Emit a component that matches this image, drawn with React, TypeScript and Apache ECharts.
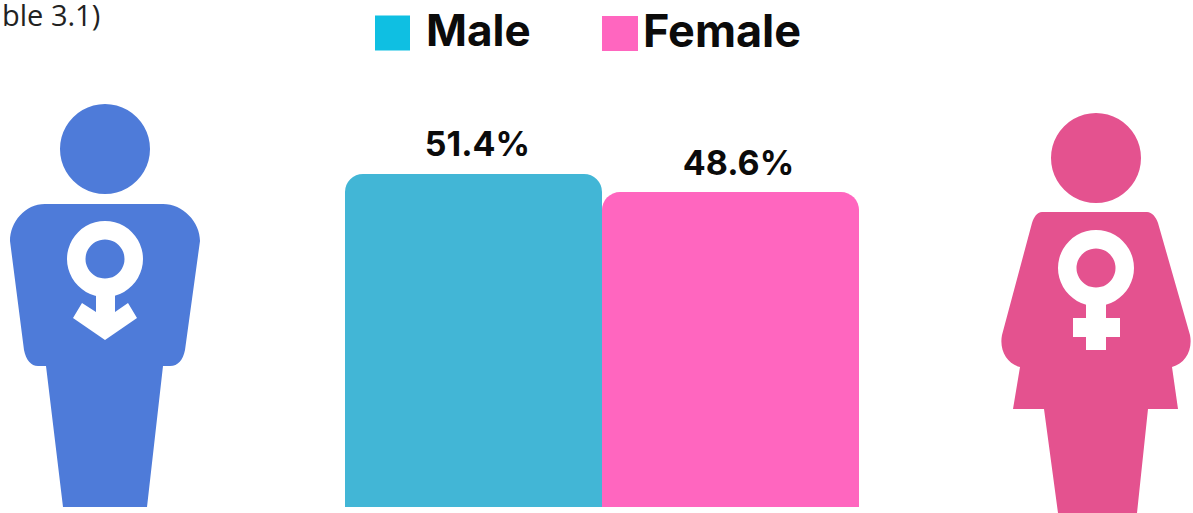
import React, { useEffect, useRef } from "react";
import * as echarts from "echarts";

const categories = ["Male", "Female"];
const maleValues = [51.4, null];
const femaleValues = [null, 48.6];
const noteText = "ble 3.1)";

const maleBody =
  "M45 204 L163 204 C183 204 200 222 200 241 L185 350 C183 360 178 366 170 366 L163 366 L147 507 L63 507 L46 366 L38 366 C31 366 26 360 24 350 L10 241 C10 222 25 204 45 204 Z";
const maleArrow =
  "M96 285 L115 285 L115 312 L128 303 L137 318 L105 340 L73 318 L82 303 L96 312 Z";
const femaleBody =
  "M1042 212 L1147 212 C1152 212 1156 217 1158 223 L1190 335 C1193 350 1185 364 1172 367 L1178 409 L1148 409 L1137 513 L1058 513 L1044 409 L1013 409 L1020 367 C1007 364 999 350 1002 335 L1032 223 C1034 217 1037 212 1042 212 Z";
const femaleCross =
  "M1086 295 L1106 295 L1106 318 L1120 318 L1120 337 L1106 337 L1106 350 L1086 350 L1086 337 L1073 337 L1073 318 L1086 318 Z";

echarts.graphic.registerShape("maleBody", echarts.graphic.extendPath(maleBody, {}));
echarts.graphic.registerShape("maleArrow", echarts.graphic.extendPath(maleArrow, {}));
echarts.graphic.registerShape("femaleBody", echarts.graphic.extendPath(femaleBody, {}));
echarts.graphic.registerShape("femaleCross", echarts.graphic.extendPath(femaleCross, {}));

const FONT = "Inter";
const MALE_FIG = "#4E7BD9";
const FEMALE_FIG = "#E4528F";

export default function App() {
  const ref = useRef<HTMLDivElement>(null);
  useEffect(() => {
    const chart = echarts.init(ref.current!, undefined, { renderer: "svg" });
    const label = (dx: number) => ({
      show: true,
      position: "top" as const,
      distance: 13,
      offset: [dx, 0],
      formatter: "{c}%",
      color: "#0b0b0b",
      fontFamily: FONT,
      fontWeight: 700,
      fontSize: 34,
    });
    const legendRich = (size: number, left: number) => ({
      color: "#0b0b0b",
      fontFamily: FONT,
      fontWeight: 700,
      fontSize: size,
      rich: {
        t: {
          color: "#0b0b0b",
          fontFamily: FONT,
          fontWeight: 700,
          fontSize: size,
          padding: [0, 0, 6, left],
        },
      },
    });
    chart.setOption({
      animation: false,
      backgroundColor: "#ffffff",
      grid: { left: 345, top: 118.2, width: 514, height: 388.8 },
      xAxis: {
        type: "category",
        data: categories,
        show: false,
      },
      yAxis: { type: "value", min: 0, max: 60, show: false },
      legend: [
        {
          data: ["Male"],
          left: 375,
          top: 8,
          padding: 0,
          itemWidth: 35,
          itemHeight: 35,
          icon: "rect",
          itemStyle: { color: "#0FBFE2" },
          formatter: "{t|{name}}",
          textStyle: legendRich(44, 11),
        },
        {
          data: ["Female"],
          left: 602,
          top: 8,
          padding: 0,
          itemWidth: 36,
          itemHeight: 35,
          icon: "rect",
          formatter: "{t|{name}}",
          textStyle: legendRich(45, 0),
        },
      ],
      series: [
        {
          name: "Male",
          type: "bar",
          stack: "all",
          barWidth: "100%",
          data: maleValues,
          itemStyle: { color: "#42B6D6", borderRadius: [18, 18, 0, 0] },
          label: label(4),
        },
        {
          name: "Female",
          type: "bar",
          stack: "all",
          barWidth: "100%",
          data: femaleValues,
          itemStyle: { color: "#FF66BF", borderRadius: [18, 18, 0, 0] },
          label: label(8),
        },
      ],
      graphic: [
        {
          type: "text",
          x: 2,
          y: 0,
          style: { text: noteText, fontFamily: "Open Sans", fontSize: 29, fill: "#222222" },
        },
        { type: "circle", shape: { cx: 105, cy: 149, r: 45 }, style: { fill: MALE_FIG } },
        { type: "maleBody", style: { fill: MALE_FIG } },
        { type: "ring", shape: { cx: 105, cy: 259, r: 38, r0: 19.5 }, style: { fill: "#ffffff" } },
        { type: "maleArrow", style: { fill: "#ffffff" } },
        { type: "circle", shape: { cx: 1096, cy: 158, r: 45 }, style: { fill: FEMALE_FIG } },
        { type: "femaleBody", style: { fill: FEMALE_FIG } },
        { type: "ring", shape: { cx: 1096, cy: 268, r: 38, r0: 19.5 }, style: { fill: "#ffffff" } },
        { type: "femaleCross", style: { fill: "#ffffff" } },
      ],
    });
    return () => chart.dispose();
  }, []);
  return (
    <div
      ref={ref}
      style={{ position: "fixed", left: 0, top: 0, width: 1193, height: 513 }}
    />
  );
}
